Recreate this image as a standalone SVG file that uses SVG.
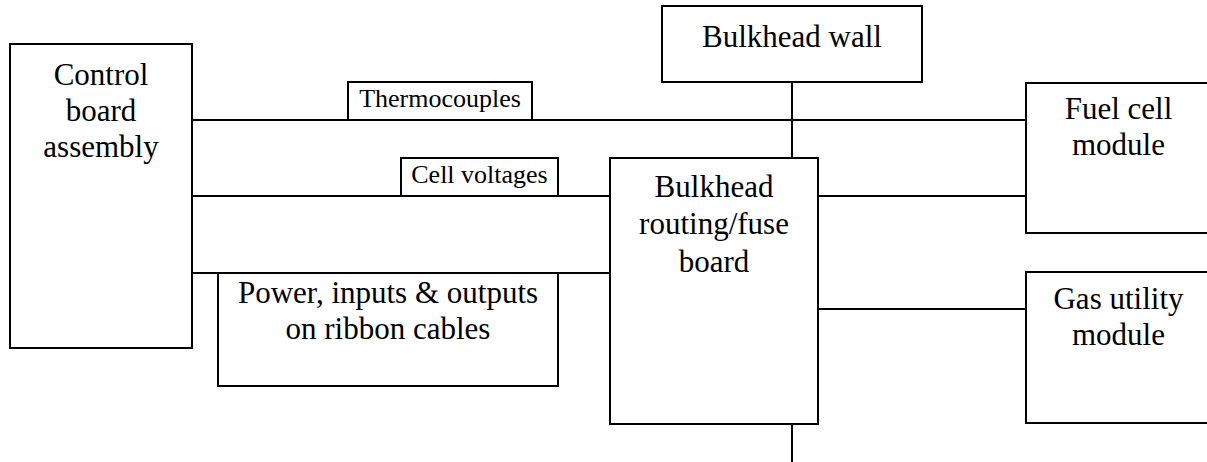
<svg xmlns="http://www.w3.org/2000/svg" width="1207" height="462" viewBox="0 0 1207 462">
<style>
.box{fill:#fff;stroke:#000;stroke-width:2}
.ln{stroke:#000;stroke-width:2;fill:none}
text{font-family:"Liberation Serif","Times New Roman",Tinos,"DejaVu Serif","Noto Serif",serif;fill:#000;text-anchor:middle}
.t{font-size:31px}
.s{font-size:26px}
</style>
<rect width="1207" height="462" fill="#fff"/>
<g id="connectors">
<line class="ln" x1="192" y1="120" x2="1026" y2="120"/>
<line class="ln" x1="192" y1="196" x2="610" y2="196"/>
<line class="ln" x1="818" y1="196" x2="1026" y2="196"/>
<line class="ln" x1="192" y1="273" x2="610" y2="273"/>
<line class="ln" x1="818" y1="309" x2="1026" y2="309"/>
<line class="ln" x1="792" y1="82" x2="792" y2="158"/>
<line class="ln" x1="792" y1="424" x2="792" y2="462"/>
</g>
<g id="control-board">
<rect class="box" x="10" y="44" width="182" height="304"/>
<text class="t" x="101" y="85" font-family="Liberation Serif, serif">Control</text>
<text class="t" x="101" y="121" font-family="Liberation Serif, serif">board</text>
<text class="t" x="101" y="157" font-family="Liberation Serif, serif">assembly</text>
</g>
<g id="thermocouples">
<rect class="box" x="348" y="82" width="184" height="38"/>
<text class="s" x="440" y="107" font-family="Liberation Serif, serif">Thermocouples</text>
</g>
<g id="cell-voltages">
<rect class="box" x="401" y="158" width="157" height="38"/>
<text class="s" x="479.5" y="183" font-family="Liberation Serif, serif">Cell voltages</text>
</g>
<g id="power">
<rect class="box" x="218" y="273" width="340" height="113"/>
<text class="t" x="388" y="303" font-family="Liberation Serif, serif">Power, inputs &amp; outputs</text>
<text class="t" x="388" y="339" font-family="Liberation Serif, serif">on ribbon cables</text>
</g>
<g id="bulkhead-wall">
<rect class="box" x="662" y="6" width="260" height="76"/>
<text class="t" x="792" y="47" font-family="Liberation Serif, serif">Bulkhead wall</text>
</g>
<g id="routing-board">
<rect class="box" x="610" y="158" width="208" height="266"/>
<text class="t" x="714" y="197" font-family="Liberation Serif, serif">Bulkhead</text>
<text class="t" x="714" y="234" font-family="Liberation Serif, serif">routing/fuse</text>
<text class="t" x="714" y="272" font-family="Liberation Serif, serif">board</text>
</g>
<g id="fuel-cell">
<rect class="box" x="1026" y="83" width="190" height="150"/>
<text class="t" x="1118.5" y="119" font-family="Liberation Serif, serif">Fuel cell</text>
<text class="t" x="1118.5" y="155" font-family="Liberation Serif, serif">module</text>
</g>
<g id="gas-utility">
<rect class="box" x="1026" y="272" width="190" height="151"/>
<text class="t" x="1118.5" y="309" font-family="Liberation Serif, serif">Gas utility</text>
<text class="t" x="1118.5" y="345" font-family="Liberation Serif, serif">module</text>
</g>
</svg>
